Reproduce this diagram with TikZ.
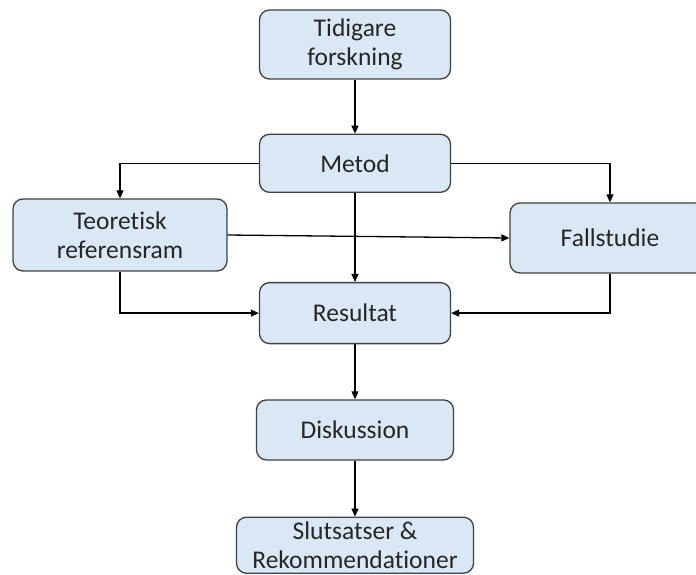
\documentclass[tikz,border=0pt]{standalone}
\usepackage{fontspec}
\setmainfont{Carlito}[Ligatures=NoCommon]
\usetikzlibrary{positioning,arrows.meta}
\definecolor{boxfill}{HTML}{DAE7F4}
\definecolor{boxline}{HTML}{404040}

\begin{document}
\begin{tikzpicture}
 [x=1pt,y=-1pt,
  box node/.style={draw=boxline,fill=boxfill,rounded corners=10pt,line width=1.3pt,
    align=center,minimum width=191pt,minimum height=58pt,inner sep=2pt,
    text=black!85,font=\fontsize{25.5}{29}\selectfont},
  link/.style={-{Triangle[length=8pt,width=7pt]},line width=1.3pt}]

\useasboundingbox (0,0) rectangle (696,574);

\node[box node,minimum height=69pt] (tid) at (355,44.5) {Tidigare\\forskning};
\node[box node] (met) [below=54pt of tid] {Metod};
\node[box node,minimum height=61pt] (res) [below=89pt of met] {Resultat};
\node[box node,minimum width=197pt,minimum height=60pt] (disk) [below=55pt of res] {Diskussion};
\node[box node,minimum width=237pt,minimum height=56pt,inner sep=0pt] (slut) [below=56pt of disk] {Slutsatser \&\\Rekommendationer};

\node[box node,minimum width=214pt,minimum height=72pt] (teo) at (120,235) {Teoretisk\\referensram};
\node[box node,minimum width=200pt,minimum height=70pt] (fall) at (610,238) {Fallstudie};

\draw[link] (tid) -- (met);
\draw[link] (met.west) -| (teo.north);
\draw[link] (met.east) -| (fall.north);
\draw[link] (met) -- (res);
\draw[link] (teo.east) -- (fall.west);
\draw[link] (teo.south) |- (res.west);
\draw[link] (fall.south) |- (res.east);
\draw[link] (res) -- (disk);
\draw[link] (disk) -- (slut);

\end{tikzpicture}
\end{document}
